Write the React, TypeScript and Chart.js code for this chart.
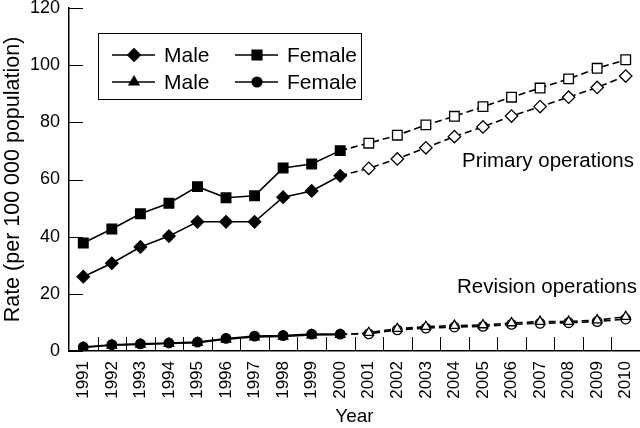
import React, { useEffect, useRef } from "react";
import { Chart, registerables } from "chart.js";
import { drawPoint } from "chart.js/helpers";

Chart.register(...registerables);

const years = [
  "1991", "1992", "1993", "1994", "1995", "1996", "1997", "1998", "1999", "2000",
  "2001", "2002", "2003", "2004", "2005", "2006", "2007", "2008", "2009", "2010",
];
const primaryMale = [26, 30.7, 36.4, 40.2, 45.2, 45.2, 45.2, 53.8, 56, 61.3, 63.9, 67.2, 71.1, 75, 78.4, 82.2, 85.5, 88.8, 92.2, 96.2];
const primaryFemale = [37.8, 42.7, 48, 51.7, 57.5, 53.6, 54.3, 64, 65.4, 70.1, 72.7, 75.5, 79.1, 82.1, 85.5, 88.8, 92, 95.2, 98.9, 101.9];
const revisionMale = [1.2, 2.0, 2.3, 2.6, 2.9, 4.1, 4.9, 5.1, 5.6, 5.7, 6.4, 7.8, 8.5, 8.9, 9.1, 9.8, 10.3, 10.3, 10.8, 12.0];
const revisionFemale = [1.4, 2.2, 2.5, 2.8, 3.1, 4.4, 5.2, 5.4, 5.9, 5.9, 6.0, 7.4, 8.0, 8.4, 8.6, 9.3, 9.7, 9.9, 10.3, 11.2];
const firstProjected = 10; // 2001 onwards: projected (dashed, open markers)
const yMin = 0;
const yMax = 120;
const yStep = 20;
const legendLabels = ["Male", "Female", "Male", "Female"];
const primaryLabel = "Primary operations";
const revisionLabel = "Revision operations";

const FONT = "'Liberation Sans', Arial, sans-serif";

const fills = years.map((_, i) => (i < firstProjected ? "#000" : "#fff"));

function makeDataset(label: string, data: number[], pointStyle: string, radius: number) {
  return {
    label,
    data,
    borderColor: "#000",
    borderWidth: 1.6,
    pointStyle,
    pointRadius: radius,
    pointBorderColor: "#000",
    pointBorderWidth: 1.3,
    pointBackgroundColor: fills,
    fill: false,
    tension: 0,
    segment: {
      borderDash: (ctx: any) => (ctx.p0DataIndex >= firstProjected - 1 ? [7, 4] : undefined),
    },
  };
}

const insideTicks = {
  id: "insideTicks",
  afterDatasetsDraw(chart: any) {
    const { ctx, chartArea, scales } = chart;
    const x = scales.x;
    const y = scales.y;
    ctx.save();
    ctx.strokeStyle = "#000";
    ctx.lineWidth = 1;
    for (let v = yMin; v <= yMax; v += yStep) {
      const py = Math.round(y.getPixelForValue(v)) + 0.5;
      ctx.beginPath();
      ctx.moveTo(chartArea.left, py);
      ctx.lineTo(chartArea.left + 14, py);
      ctx.stroke();
    }
    for (let i = 0; i < years.length - 1; i++) {
      const px = Math.round((x.getPixelForValue(i) + x.getPixelForValue(i + 1)) / 2) + 0.5;
      ctx.beginPath();
      ctx.moveTo(px, chartArea.bottom);
      ctx.lineTo(px, chartArea.bottom - 14);
      ctx.stroke();
    }
    ctx.restore();
  },
};

const annotations = {
  id: "annotations",
  afterDraw(chart: any) {
    const { ctx, chartArea, scales } = chart;
    const y = scales.y;
    ctx.save();
    ctx.fillStyle = "#000";
    ctx.font = `20.5px ${FONT}`;
    ctx.textAlign = "right";
    ctx.textBaseline = "alphabetic";
    ctx.fillText(primaryLabel, chartArea.right - 6, y.getPixelForValue(64.4));
    ctx.fillText(revisionLabel, chartArea.right - 3, y.getPixelForValue(20.3));

    // legend box
    const bx = chartArea.left + 29;
    const by = chartArea.top + 25;
    const bw = 263;
    const bh = 66;
    ctx.fillStyle = "#fff";
    ctx.fillRect(bx, by, bw, bh);
    ctx.strokeStyle = "#000";
    ctx.lineWidth = 1;
    ctx.strokeRect(bx + 0.5, by + 0.5, bw, bh);
    const ds = chart.data.datasets;
    const colX = [bx + 14, bx + 137];
    const rowY = [by + 22, by + 49];
    ctx.font = `21px ${FONT}`;
    ctx.textAlign = "left";
    ctx.textBaseline = "middle";
    for (let k = 0; k < 4; k++) {
      const cx = colX[k % 2];
      const cy = rowY[Math.floor(k / 2)];
      ctx.strokeStyle = "#000";
      ctx.lineWidth = 1.6;
      ctx.beginPath();
      ctx.moveTo(cx, cy);
      ctx.lineTo(cx + 43, cy);
      ctx.stroke();
      ctx.fillStyle = "#000";
      drawPoint(ctx, {
        pointStyle: ds[k].pointStyle,
        radius: ds[k].pointRadius,
        borderWidth: 1,
        rotation: 0,
      } as any, cx + 22, cy);
      ctx.fillStyle = "#000";
      ctx.fillText(legendLabels[k], cx + 52, cy + 1);
    }
    ctx.restore();
  },
};

export default function App() {
  const canvasRef = useRef<HTMLCanvasElement | null>(null);

  useEffect(() => {
    if (!canvasRef.current) return;
    const chart = new Chart(canvasRef.current, {
      type: "line",
      data: {
        labels: years,
        datasets: [
          makeDataset(legendLabels[0], primaryMale, "rectRot", 6.2),
          makeDataset(legendLabels[1], primaryFemale, "rect", 6.8),
          makeDataset(legendLabels[2], revisionMale, "triangle", 5.5),
          makeDataset(legendLabels[3], revisionFemale, "circle", 4.8),
        ] as any,
      },
      options: {
        responsive: false,
        animation: false,
        devicePixelRatio: 1,
        layout: { autoPadding: false, padding: { top: 8, left: 0, right: 0, bottom: 0 } },
        plugins: {
          legend: { display: false },
          tooltip: { enabled: false },
        },
        scales: {
          x: {
            type: "category",
            offset: true,
            grid: { display: true, drawOnChartArea: false, drawTicks: false },
            border: { display: true, color: "#000", width: 1.5 },
            ticks: {
              color: "#000",
              font: { family: FONT, size: 17 },
              autoSkip: false,
              minRotation: 90,
              maxRotation: 90,
              padding: 10,
            },
            title: {
              display: true,
              text: "Year",
              color: "#000",
              font: { family: FONT, size: 19 },
              padding: { top: 0, bottom: 0 },
            },
            afterFit(scale: any) {
              scale.height = 77;
              scale.paddingLeft = 0;
              scale.paddingRight = 0;
            },
          },
          y: {
            min: yMin,
            max: yMax,
            grid: { display: true, drawOnChartArea: false, drawTicks: false },
            border: { display: true, color: "#000", width: 1.5 },
            ticks: {
              stepSize: yStep,
              color: "#000",
              font: { family: FONT, size: 18 },
              padding: 9,
            },
            title: {
              display: true,
              text: "Rate (per 100 000 population)",
              color: "#000",
              font: { family: FONT, size: 21.5 },
              padding: { top: 0, bottom: 0 },
            },
            afterFit(scale: any) {
              scale.width = 69;
              scale.paddingTop = 0;
              scale.paddingBottom = 0;
            },
          },
        },
      },
      plugins: [insideTicks, annotations],
    });
    return () => chart.destroy();
  }, []);

  return (
    <div style={{ position: "fixed", left: 0, top: 0, width: 640, height: 428, background: "#fff" }}>
      <canvas ref={canvasRef} width={640} height={428} />
    </div>
  );
}
